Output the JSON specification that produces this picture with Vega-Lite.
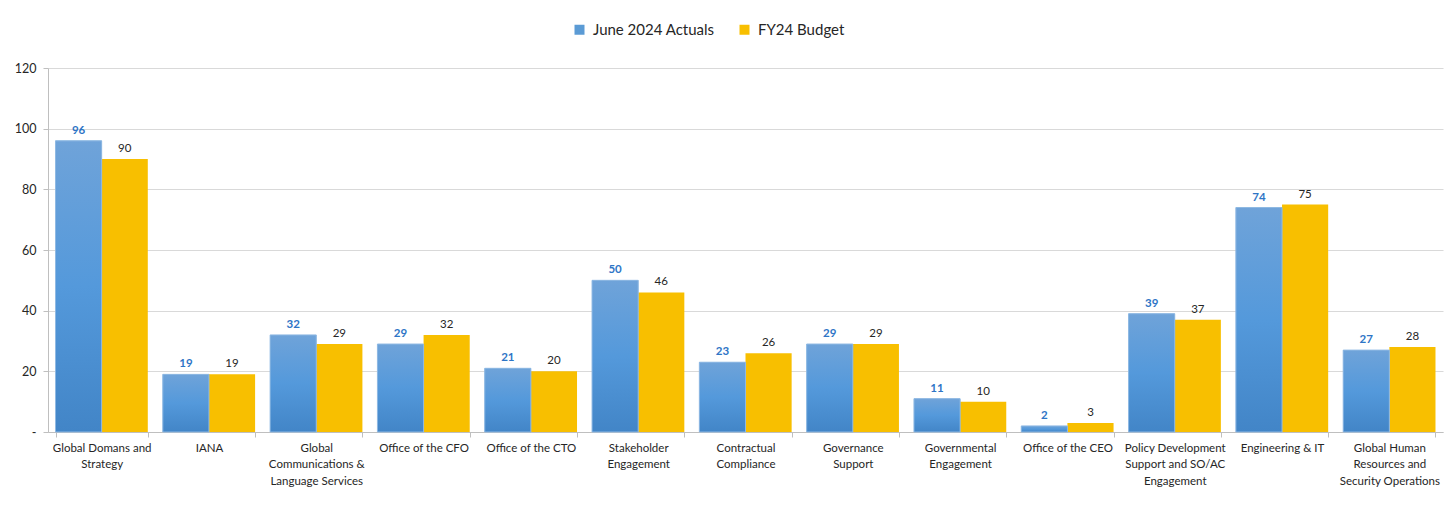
{
  "$schema": "https://vega.github.io/schema/vega-lite/v6.json",
  "autosize": {"type": "none"},
  "width": 1395,
  "height": 364,
  "padding": {"left": 48, "top": 68, "right": 9, "bottom": 75},
  "background": "white",
  "config": {
    "view": {"stroke": null},
    "font": "Lato",
    "axis": {"labelFont": "Lato", "labelColor": "#262626", "titleFont": "Lato"},
    "legend": {"labelFont": "Lato"}
  },
  "data": {
    "values": [
      {"dept": "Global Domans and|Strategy", "series": "June 2024 Actuals", "value": 96},
      {"dept": "Global Domans and|Strategy", "series": "FY24 Budget", "value": 90},
      {"dept": "IANA", "series": "June 2024 Actuals", "value": 19},
      {"dept": "IANA", "series": "FY24 Budget", "value": 19},
      {"dept": "Global|Communications &|Language Services", "series": "June 2024 Actuals", "value": 32},
      {"dept": "Global|Communications &|Language Services", "series": "FY24 Budget", "value": 29},
      {"dept": "Office of the CFO", "series": "June 2024 Actuals", "value": 29},
      {"dept": "Office of the CFO", "series": "FY24 Budget", "value": 32},
      {"dept": "Office of the CTO", "series": "June 2024 Actuals", "value": 21},
      {"dept": "Office of the CTO", "series": "FY24 Budget", "value": 20},
      {"dept": "Stakeholder|Engagement", "series": "June 2024 Actuals", "value": 50},
      {"dept": "Stakeholder|Engagement", "series": "FY24 Budget", "value": 46},
      {"dept": "Contractual|Compliance", "series": "June 2024 Actuals", "value": 23},
      {"dept": "Contractual|Compliance", "series": "FY24 Budget", "value": 26},
      {"dept": "Governance|Support", "series": "June 2024 Actuals", "value": 29},
      {"dept": "Governance|Support", "series": "FY24 Budget", "value": 29},
      {"dept": "Governmental|Engagement", "series": "June 2024 Actuals", "value": 11},
      {"dept": "Governmental|Engagement", "series": "FY24 Budget", "value": 10},
      {"dept": "Office of the CEO", "series": "June 2024 Actuals", "value": 2},
      {"dept": "Office of the CEO", "series": "FY24 Budget", "value": 3},
      {"dept": "Policy Development|Support and SO/AC|Engagement", "series": "June 2024 Actuals", "value": 39},
      {"dept": "Policy Development|Support and SO/AC|Engagement", "series": "FY24 Budget", "value": 37},
      {"dept": "Engineering & IT", "series": "June 2024 Actuals", "value": 74},
      {"dept": "Engineering & IT", "series": "FY24 Budget", "value": 75},
      {"dept": "Global Human|Resources and|Security Operations", "series": "June 2024 Actuals", "value": 27},
      {"dept": "Global Human|Resources and|Security Operations", "series": "FY24 Budget", "value": 28}
    ]
  },
  "encoding": {
    "x": {
      "field": "dept",
      "type": "nominal",
      "sort": null,
      "scale": {"paddingInner": 0.14, "paddingOuter": 0.07},
      "axis": {
        "title": null,
        "labelAngle": 0,
        "labelExpr": "isString(datum.value) ? split(datum.value, '|') : ''",
        "labelFontSize": 11.5,
        "labelLineHeight": 16.5,
        "labelBaseline": "top",
        "labelPadding": 5,
        "labelLimit": 200,
        "tickBand": "extent",
        "tickSize": 5,
        "tickColor": "#bfbfbf",
        "domainColor": "#bfbfbf",
        "labelColor": "#262626"
      }
    },
    "xOffset": {
      "field": "series",
      "type": "nominal",
      "scale": {"domain": ["June 2024 Actuals", "FY24 Budget"], "paddingInner": 0, "paddingOuter": 0}
    },
    "y": {
      "field": "value",
      "type": "quantitative",
      "scale": {"domain": [0, 120], "nice": false},
      "axis": {
        "title": null,
        "values": [0, 20, 40, 60, 80, 100, 120],
        "labelExpr": "datum.value == 0 ? '-' : datum.label",
        "labelFontSize": 12.5,
        "labelPadding": 7,
        "tickSize": 5,
        "tickColor": "#bfbfbf",
        "domainColor": "#bfbfbf",
        "gridColor": "#d9d9d9",
        "labelColor": "#262626"
      }
    }
  },
  "layer": [
    {
      "mark": {"type": "bar"},
      "encoding": {
        "color": {
          "field": "series",
          "type": "nominal",
          "scale": {"domain": ["June 2024 Actuals", "FY24 Budget"], "range": ["#5b9bd5", "#f8bf00"]},
          "legend": {
            "title": null,
            "orient": "none",
            "legendX": 524,
            "legendY": -46,
            "direction": "horizontal",
            "symbolType": "square",
            "symbolSize": 100,
            "labelFontSize": 15,
            "labelColor": "#262626",
            "labelOffset": 6,
            "columnPadding": 22
          }
        }
      }
    },
    {
      "transform": [{"filter": "datum.series == 'June 2024 Actuals'"}],
      "mark": {
        "type": "bar",
        "stroke": "#8fb9e3",
        "strokeWidth": 1,
        "fill": {
          "gradient": "linear",
          "x1": 0, "y1": 0, "x2": 0, "y2": 1,
          "stops": [
            {"offset": 0, "color": "#6fa3d9"},
            {"offset": 0.5, "color": "#5499db"},
            {"offset": 1, "color": "#4285c7"}
          ]
        }
      },
      "encoding": {}
    },
    {
      "transform": [{"filter": "datum.series == 'June 2024 Actuals'"}],
      "mark": {"type": "text", "baseline": "bottom", "dy": -5, "fontSize": 11.5, "fontWeight": "bold", "color": "#2e75c6"},
      "encoding": {"text": {"field": "value", "type": "quantitative"}}
    },
    {
      "transform": [{"filter": "datum.series == 'FY24 Budget'"}],
      "mark": {"type": "text", "baseline": "bottom", "dy": -5, "fontSize": 11.5, "color": "#262626"},
      "encoding": {"text": {"field": "value", "type": "quantitative"}}
    }
  ]
}
